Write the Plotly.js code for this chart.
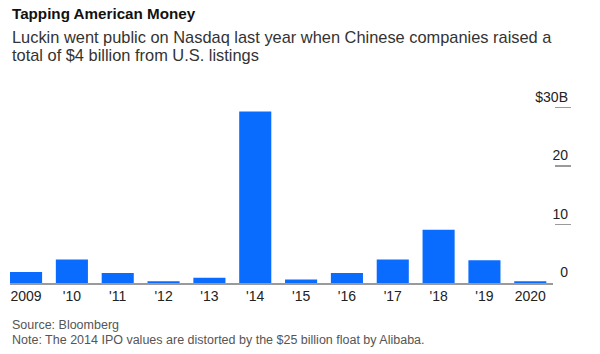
<!DOCTYPE html>
<html>
<head>
<meta charset="utf-8">
<script src="https://cdn.plot.ly/plotly-3.0.1.min.js"></script>
<style>
html,body{margin:0;padding:0;background:#fff;}
#chart{width:600px;height:354px;}
</style>
</head>
<body>
<div id="chart"></div>
<script>
const years = ["2009", "'10", "'11", "'12", "'13", "'14", "'15", "'16", "'17", "'18", "'19", "2020"];
const ipoValues = [1.9, 4.0, 1.7, 0.3, 0.9, 29.3, 0.6, 1.7, 4.0, 9.1, 3.9, 0.3];
const yTickVals = [0, 10, 20, 30];
const yTickText = ["0", "10", "20", "$30B"];

const W = 600, H = 354;
const mL = 10, mR = 29, mT = 84.4, mB = 70.7;
const plotH = H - mT - mB;
const py = (px) => (H - mB - px) / plotH;   // pixel y -> paper y
const xDomEnd = (553.2 - mL) / (W - mL - mR);

const trace = {
  type: 'bar',
  x: years,
  y: ipoValues,
  marker: {color: '#0a6cff'},
  hoverinfo: 'x+y'
};

const layout = {
  width: W, height: H,
  margin: {l: mL, r: mR, t: mT, b: mB, pad: 0},
  paper_bgcolor: '#fff',
  plot_bgcolor: '#fff',
  showlegend: false,
  bargap: 0.3,
  font: {family: 'Liberation Sans, Arial, sans-serif', color: '#333'},
  xaxis: {
    domain: [0, xDomEnd],
    type: 'category',
    range: [-0.35, 11.5],
    showgrid: false,
    zeroline: false,
    showline: true,
    linecolor: '#9a9a9a',
    linewidth: 1.5,
    ticks: '',
    tickfont: {size: 14, color: '#222'},
    fixedrange: true
  },
  yaxis: {
    anchor: 'free',
    position: 1,
    side: 'right',
    range: [0, 34],
    tickvals: yTickVals,
    ticktext: yTickText,
    ticks: 'inside',
    ticklen: 16,
    tickwidth: 1.5,
    tickcolor: '#9a9a9a',
    ticklabelposition: 'inside top',
    tickfont: {size: 14, color: '#222'},
    showgrid: false,
    zeroline: false,
    showline: false,
    fixedrange: true
  },
  annotations: [
    {text: '<b>Tapping American Money</b>', xref: 'paper', yref: 'paper', x: 0, y: py(14),
     xanchor: 'left', yanchor: 'middle', showarrow: false,
     font: {size: 15.2, color: '#111'}},
    {text: 'Luckin went public on Nasdaq last year when Chinese companies raised a', xref: 'paper', yref: 'paper', x: 0, y: py(37),
     xanchor: 'left', yanchor: 'middle', showarrow: false,
     font: {size: 16.4, color: '#333'}},
    {text: 'total of $4 billion from U.S. listings', xref: 'paper', yref: 'paper', x: 0, y: py(55),
     xanchor: 'left', yanchor: 'middle', showarrow: false,
     font: {size: 16.4, color: '#333'}},
    {text: 'Source: Bloomberg', xref: 'paper', yref: 'paper', x: 0, y: py(325.5),
     xanchor: 'left', yanchor: 'middle', showarrow: false,
     font: {size: 12.5, color: '#555'}},
    {text: 'Note: The 2014 IPO values are distorted by the $25 billion float by Alibaba.', xref: 'paper', yref: 'paper', x: 0, y: py(340),
     xanchor: 'left', yanchor: 'middle', showarrow: false,
     font: {size: 12.5, color: '#555'}}
  ]
};

Plotly.newPlot('chart', [trace], layout, {displayModeBar: false, staticPlot: true});
</script>
</body>
</html>
